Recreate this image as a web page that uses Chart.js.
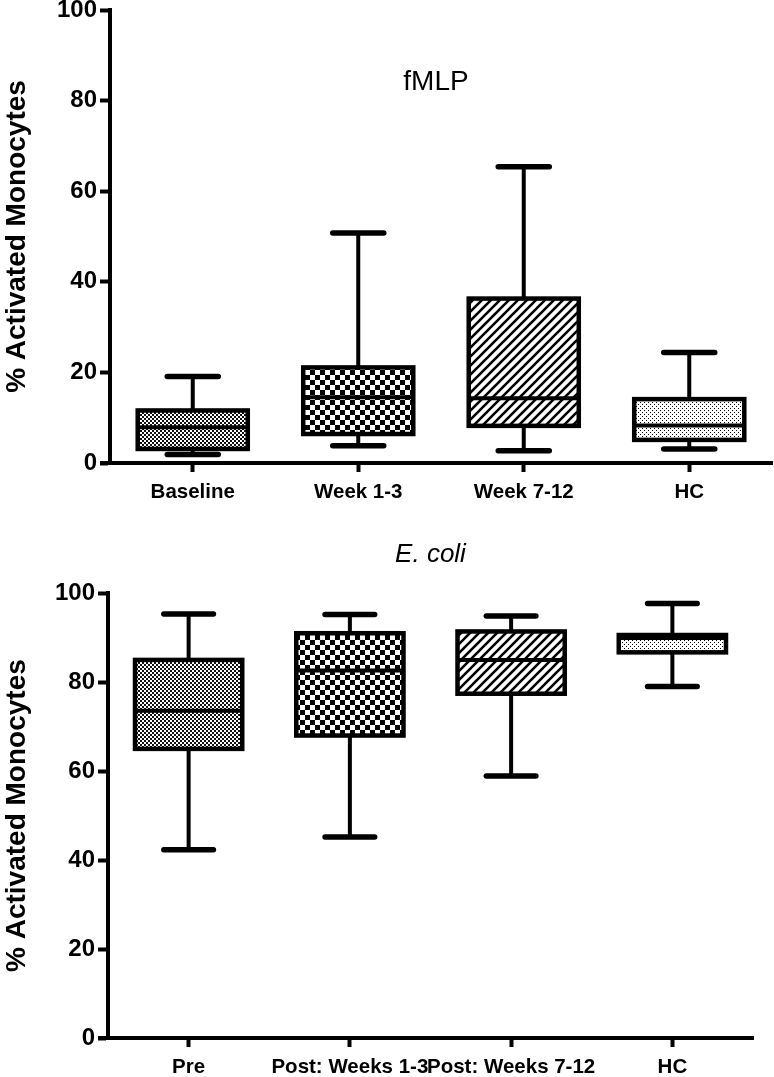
<!DOCTYPE html>
<html>
<head>
<meta charset="utf-8">
<script src="https://cdn.jsdelivr.net/npm/chart.js@4.4.1/dist/chart.umd.min.js"></script>
<style>
  html, body { margin: 0; padding: 0; background: #fff; }
  body { width: 774px; height: 1077px; position: relative; overflow: hidden; }
  .panel { position: absolute; left: 0; width: 774px; }
  #top { top: -10px; height: 520px; }
  #bottom { top: 500px; height: 577px; }
</style>
</head>
<body>
<div class="panel" id="top"><canvas id="fmlpChart"></canvas></div>
<div class="panel" id="bottom"><canvas id="ecoliChart"></canvas></div>
<script>
// fMLP panel (box = Q1..Q3, whiskers = min..max)
const fmlpLabels = ['Baseline', 'Week 1-3', 'Week 7-12', 'HC'];
const fmlpMin    = [1.9, 3.8, 2.7, 3.1];
const fmlpQ1     = [3.1, 6.4, 8.2, 5.1];
const fmlpMedian = [7.9, 14.5, 14.3, 8.3];
const fmlpQ3     = [11.6, 21.1, 36.3, 14.1];
const fmlpMax    = [19.1, 50.8, 65.4, 24.4];

// E. coli panel
const ecoliLabels = ['Pre', 'Post: Weeks 1-3', 'Post: Weeks 7-12', 'HC'];
const ecoliMin    = [42.3, 45.2, 58.9, 79.0];
const ecoliQ1     = [65.0, 68.0, 77.4, 86.7];
const ecoliMedian = [73.6, 82.6, 85.0, 89.9];
const ecoliQ3     = [85.0, 91.0, 91.4, 90.6];
const ecoliMax    = [95.3, 95.2, 94.9, 97.7];

const yTitle = '% Activated Monocytes';
const FONT = '"Liberation Sans", Arial, Helvetica, sans-serif';
Chart.defaults.font.family = FONT;
Chart.defaults.color = '#000';

function makePattern(kind) {
  const c = document.createElement('canvas');
  let g;
  if (kind === 'fine') {
    c.width = c.height = 4;
    g = c.getContext('2d');
    g.fillStyle = '#fff'; g.fillRect(0, 0, 4, 4);
    g.fillStyle = '#111'; g.fillRect(0, 0, 2, 2); g.fillRect(2, 2, 2, 2);
  } else if (kind === 'check') {
    c.width = c.height = 10;
    g = c.getContext('2d');
    g.fillStyle = '#fff'; g.fillRect(0, 0, 10, 10);
    g.fillStyle = '#000'; g.fillRect(0, 0, 5, 5); g.fillRect(5, 5, 5, 5);
  } else if (kind === 'hatch') {
    c.width = c.height = 9;
    g = c.getContext('2d');
    g.fillStyle = '#fff'; g.fillRect(0, 0, 9, 9);
    g.strokeStyle = '#000'; g.lineWidth = 2.6;
    g.beginPath();
    g.moveTo(-1, 10); g.lineTo(10, -1);
    g.moveTo(-2, 2); g.lineTo(2, -2);
    g.moveTo(7, 11); g.lineTo(11, 7);
    g.stroke();
  } else {
    c.width = c.height = 4;
    g = c.getContext('2d');
    g.fillStyle = '#fff'; g.fillRect(0, 0, 4, 4);
    g.fillStyle = '#000'; g.fillRect(0, 0, 1, 1); g.fillRect(2, 2, 1, 1);
  }
  return g.createPattern(c, 'repeat');
}

const boxFills = [makePattern('fine'), makePattern('check'), makePattern('hatch'), makePattern('dots')];

// draws box outline, whiskers, caps and median from the dataset stats
const boxPlot = {
  id: 'boxPlot',
  afterDatasetsDraw(chart) {
    const ds = chart.data.datasets[0];
    const meta = chart.getDatasetMeta(0);
    const y = chart.scales.y;
    const ctx = chart.ctx;
    ctx.save();
    ctx.strokeStyle = '#000';
    meta.data.forEach((bar, i) => {
      const x = bar.x, w = bar.width;
      const yLo = y.getPixelForValue(ds.whiskerMin[i]);
      const yHi = y.getPixelForValue(ds.whiskerMax[i]);
      const yQ1 = y.getPixelForValue(ds.data[i][0]);
      const yQ3 = y.getPixelForValue(ds.data[i][1]);
      const yMed = y.getPixelForValue(ds.medians[i]);

      ctx.lineCap = 'butt';
      ctx.lineWidth = 4;
      ctx.beginPath();
      ctx.moveTo(x, yQ3); ctx.lineTo(x, yHi);
      ctx.moveTo(x, yQ1); ctx.lineTo(x, yLo);
      ctx.stroke();

      ctx.lineCap = 'round';
      ctx.lineWidth = 5.5;
      ctx.beginPath();
      ctx.moveTo(x - w / 4 + 2, yHi); ctx.lineTo(x + w / 4 - 2, yHi);
      ctx.moveTo(x - w / 4 + 2, yLo); ctx.lineTo(x + w / 4 - 2, yLo);
      ctx.stroke();

      ctx.lineCap = 'butt';
      ctx.lineJoin = 'miter';
      ctx.lineWidth = 4.5;
      ctx.strokeRect(x - w / 2, yQ3, w, yQ1 - yQ3);
      ctx.lineWidth = 4;
      ctx.beginPath();
      ctx.moveTo(x - w / 2, yMed); ctx.lineTo(x + w / 2, yMed);
      ctx.stroke();
    });
    // x axis runs a little past the y axis, under the tick marks
    const a = chart.chartArea;
    ctx.fillStyle = '#000';
    ctx.fillRect(a.left - 10, a.bottom - 2, 12, 4);
    ctx.restore();
  }
};

// free text inside the plot area, placed on the y scale
const note = {
  id: 'note',
  afterDraw(chart, args, opts) {
    if (!opts || !opts.text) return;
    const a = chart.chartArea;
    const ctx = chart.ctx;
    ctx.save();
    ctx.font = `${opts.size}px ${FONT}`;
    ctx.fillStyle = '#000';
    ctx.textAlign = 'center';
    ctx.textBaseline = 'middle';
    ctx.fillText(opts.text, (a.left + a.right) / 2 + (opts.dx || 0), chart.scales.y.getPixelForValue(opts.value));
    ctx.restore();
  }
};

function boxChart(canvasId, labels, mins, q1s, meds, q3s, maxs, extra) {
  return new Chart(document.getElementById(canvasId), {
    type: 'bar',
    data: {
      labels: labels,
      datasets: [{
        data: q1s.map((v, i) => [v, q3s[i]]),
        whiskerMin: mins,
        medians: meds,
        whiskerMax: maxs,
        backgroundColor: boxFills,
        borderWidth: 0,
        barPercentage: 0.665,
        categoryPercentage: 1.0,
      }]
    },
    options: {
      responsive: true,
      maintainAspectRatio: false,
      animation: false,
      layout: { padding: extra.padding },
      plugins: {
        legend: { display: false },
        tooltip: { enabled: false },
        title: extra.title,
        note: extra.note || {},
      },
      scales: {
        x: {
          grid: { display: true, drawOnChartArea: false, offset: false, tickLength: 9, tickWidth: 4, tickColor: '#000' },
          border: { display: true, color: '#000', width: 4 },
          ticks: {
            color: '#000', padding: 8, autoSkip: false, maxRotation: 0, minRotation: 0,
            font: { size: 20.5, weight: 'bold' },
          },
          afterFit: (s) => { s.height = extra.xHeight; },
        },
        y: {
          min: 0,
          max: 100,
          ticks: { stepSize: 20, color: '#000', padding: 3, font: { size: 24, weight: 'bold' } },
          grid: { drawOnChartArea: false, tickLength: 10, tickWidth: 4, tickColor: '#000' },
          border: { display: true, color: '#000', width: 4 },
          title: {
            display: true, text: yTitle, color: '#000', padding: 0,
            font: { size: 28, weight: 'bold' },
          },
          afterFit: (s) => { s.width = extra.yWidth; },
        }
      }
    },
    plugins: [boxPlot, note]
  });
}

boxChart('fmlpChart', fmlpLabels, fmlpMin, fmlpQ1, fmlpMedian, fmlpQ3, fmlpMax, {
  padding: { top: 20, right: 2, left: 0, bottom: 0 },
  yWidth: 110,
  xHeight: 47,
  title: { display: false },
  note: { text: 'fMLP', value: 84, size: 28, dx: -5 },
});

boxChart('ecoliChart', ecoliLabels, ecoliMin, ecoliQ1, ecoliMedian, ecoliQ3, ecoliMax, {
  padding: { top: 0, right: 21, left: 0, bottom: 0 },
  yWidth: 108,
  xHeight: 39,
  title: {
    display: true, text: 'E. coli', fullSize: false, color: '#000',
    font: { size: 26, style: 'italic', weight: 'normal' },
    padding: { top: 39, bottom: 23 },
  },
});
</script>
</body>
</html>
